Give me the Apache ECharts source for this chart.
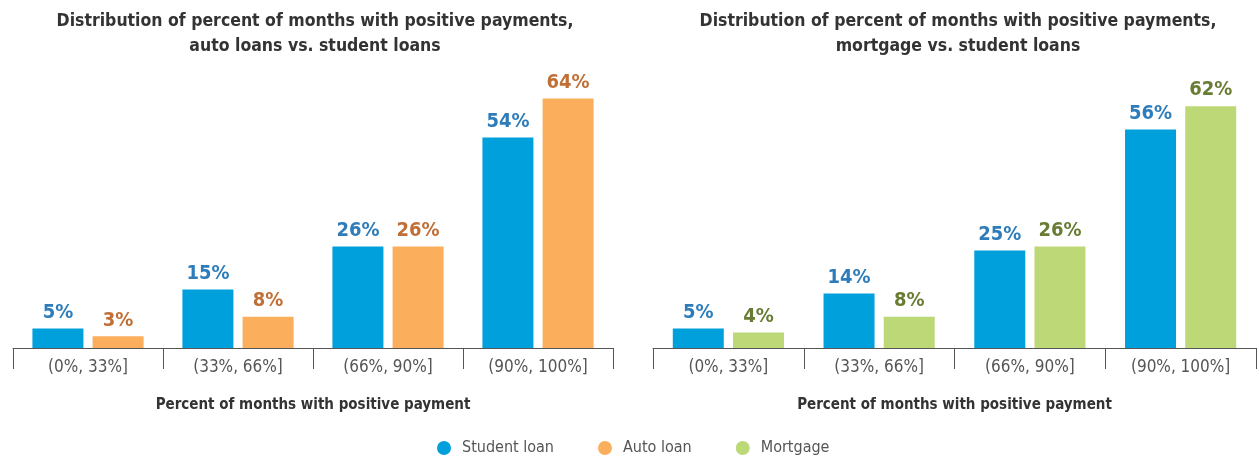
<!DOCTYPE html>
<html><head><meta charset="utf-8">
<script src="https://cdn.jsdelivr.net/npm/echarts@6/dist/echarts.min.js"></script>
<style>html,body{margin:0;padding:0;background:#fff}#c{width:1259px;height:458px}</style>
</head><body><div id="c"></div>
<script>
const categories = ['(0%, 33%]', '(33%, 66%]', '(66%, 90%]', '(90%, 100%]'];
const studentLeft = [5, 15, 26, 54];
const autoLoan = [3, 8, 26, 64];
const studentRight = [5, 14, 25, 56];
const mortgage = [4, 8, 26, 62];
const titleLeft = 'Distribution of percent of months with positive payments,\nauto loans vs. student loans';
const titleRight = 'Distribution of percent of months with positive payments,\nmortgage vs. student loans';
const axisName = 'Percent of months with positive payment';

const FONT = '"Liberation Sans Narrow", "DejaVu Sans Condensed", sans-serif';
const chart = echarts.init(document.getElementById('c'));
function xAx(i){
  return {
    type:'category', gridIndex:i, data:categories,
    axisLine:{lineStyle:{color:'#555',width:1}},
    axisTick:{show:true,length:21,lineStyle:{color:'#555'}},
    axisLabel:{color:'#555',fontSize:17,margin:11,fontFamily:FONT},
    name:axisName, nameLocation:'middle', nameGap:50,
    nameTextStyle:{color:'#333',fontSize:15,fontWeight:'bold',fontFamily:FONT}
  };
}
function yAx(i){ return {type:'value',gridIndex:i,min:0,max:70,show:false}; }
function bar(name, data, xi, color, lblColor){
  return {
    type:'bar', name:name, xAxisIndex:xi, yAxisIndex:xi, data:data,
    barWidth:51, barGap:'18%', itemStyle:{color:color},
    label:{show:true,position:'top',distance:6,formatter:'{c}%',color:lblColor,fontSize:20,fontWeight:'bold',fontFamily:FONT}
  };
}
chart.setOption({
  animation:false,
  textStyle:{fontFamily:FONT},
  title:[
    {text:titleLeft,left:310,top:4,textAlign:'center',textStyle:{color:'#333',fontSize:17.5,fontWeight:'bold',lineHeight:25,fontFamily:FONT}},
    {text:titleRight,left:953,top:4,textAlign:'center',textStyle:{color:'#333',fontSize:17.5,fontWeight:'bold',lineHeight:25,fontFamily:FONT}}
  ],
  legend:{
    data:['Student loan','Auto loan','Mortgage'], top:435, left:432, icon:'circle',
    itemWidth:14, itemHeight:14, itemGap:44,
    textStyle:{color:'#555',fontSize:16,fontFamily:FONT,padding:[0,0,0,6]}
  },
  grid:[
    {left:13,width:600,top:75,bottom:110},
    {left:653,width:603,top:75,bottom:110}
  ],
  xAxis:[xAx(0),xAx(1)],
  yAxis:[yAx(0),yAx(1)],
  series:[
    bar('Student loan',studentLeft,0,'#00A0DC','#2E7DBA'),
    bar('Auto loan',autoLoan,0,'#FBAE5C','#C06F36'),
    bar('Student loan',studentRight,1,'#00A0DC','#2E7DBA'),
    bar('Mortgage',mortgage,1,'#BCD877','#687C34')
  ]
});
</script></body></html>
